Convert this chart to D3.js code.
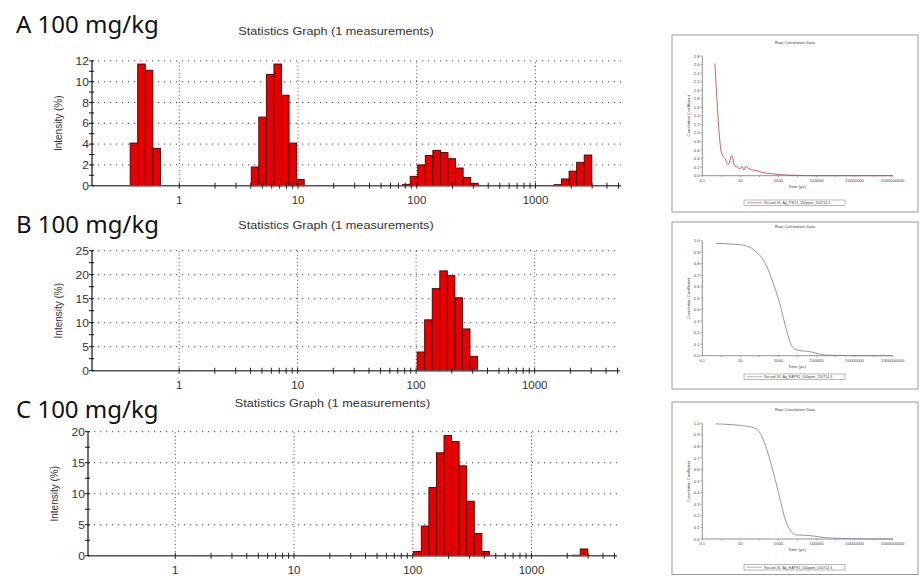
<!DOCTYPE html>
<html><head><meta charset="utf-8">
<script src="https://cdn.jsdelivr.net/npm/d3@7"></script>
<style>body{margin:0;background:#fff}svg{display:block}</style>
</head><body>
<svg id="c" width="921" height="582"></svg>
<script>
// Zetasizer size classes (d.nm)
const sizeClasses = [0.4,0.4632,0.5365,0.6213,0.7195,0.8332,0.9649,1.117,1.294,1.499,1.736,2.010,2.328,2.696,3.122,3.615,4.187,4.849,5.615,6.503,7.531,8.721,10.10,11.70,13.54,15.69,18.17,21.04,24.36,28.21,32.67,37.84,43.82,50.75,58.77,68.06,78.82,91.28,105.7,122.4,141.8,164.2,190.1,220.2,255.0,295.3,342.0,396.1,458.7,531.2,615.1,712.4,825.0,955.4,1106,1281,1484,1718,1990,2305,2669,3091,3580,4145,4801,5560,6439,7456,8635,10000];

const panelLabels = ["A 100 mg/kg","B 100 mg/kg","C 100 mg/kg"];
const chartTitle = "Statistics Graph (1 measurements)";
const xTickLabels = [1,10,100,1000];

const sizesA = [0.4,0.4632,0.5365,0.6213,4.187,4.849,5.615,6.503,7.531,8.721,10.10,78.82,91.28,105.7,122.4,141.8,164.2,190.1,220.2,255.0,295.3,1484,1718,1990,2305,2669];
const intensityA = [4.1,11.7,11.1,3.6,1.8,6.6,10.7,11.7,8.7,4.1,0.6,0.13,0.9,2.0,2.9,3.4,3.2,2.6,1.7,0.8,0.23,0.1,0.65,1.4,2.25,2.95];
const sizesB = [105.7,122.4,141.8,164.2,190.1,220.2,255.0,295.3];
const intensityB = [3.9,10.6,17.1,20.8,19.8,15.2,8.7,3.0];
const sizesC = [105.7,122.4,141.8,164.2,190.1,220.2,255.0,295.3,342.0,396.1,2305,2669];
const intensityC = [0.7,4.8,11.0,16.6,19.4,18.4,14.5,8.8,3.6,0.7,0.1,1.1];

// Raw correlation data (time in µs, coefficient)
const corrTimeA = [0.46,1.04,1.55,2.3,3.5,5.2,7.4,9.5,12,15.5,19.5,25,40,66,135,355,1175,7200,91000,1e9];
const corrValA  = [2.63,0.52,0.4,0.25,0.47,0.22,0.2,0.15,0.22,0.13,0.22,0.18,0.14,0.12,0.08,0.05,0.025,0.01,0.0,0.0];
const corrTimeB = [0.52,2.8,21,71,135,238,530,1190,2670,4880,8900,44500,333000,9e7,1e9];
const corrValB  = [0.977,0.972,0.955,0.9,0.85,0.78,0.63,0.45,0.22,0.09,0.05,0.035,0.005,0.0,0.0];
const corrTimeC = [0.5,21,71,238,530,1190,2170,3980,8900,44500,333000,9e7,1e9];
const corrValC  = [0.995,0.975,0.95,0.78,0.58,0.35,0.18,0.08,0.035,0.03,0.01,0.0,0.0];
const corrXTicks = [0.1,10,1000,100000,10000000,1000000000];
const legendTexts = ["Record 36: Ag_PSO1_100ppm_150714 3","Record 34: Ag_EAPS1_100ppm_150714 3","Record 35: Ag_EAPS1_100ppm_150714 3"];

const svg = d3.select("#c");
const FONT = "'Liberation Sans', Arial, sans-serif";
const SX = 1.15; // horizontal stretch of the original figure's text

const panels = [
  {sizes:sizesA, vals:intensityA, left:92, right:621, top:60.9, bottom:185.7, yMax:12, yMajor:2, yMinor:1, titleY:35, titleX:336, labelY:33},
  {sizes:sizesB, vals:intensityB, left:92, right:620, top:250.7, bottom:370.7, yMax:25, yMajor:5, yMinor:2.5, titleY:229, titleX:336, labelY:233},
  {sizes:sizesC, vals:intensityC, left:88, right:617, top:431.7, bottom:555.8, yMax:20, yMajor:5, yMinor:2.5, titleY:406.5, titleX:332.5, labelY:418}
];

function stretchedText(g, x, y, txt, size, anchor, rot){
  const gg = g.append("g").attr("transform",`translate(${x},${y}) scale(${SX},1)` + (rot?` rotate(${rot})`:""));
  return gg.append("text").attr("text-anchor",anchor).text(txt)
    .attr("font-family",FONT).attr("font-size",size).attr("fill","#333");
}

panels.forEach((p,pi)=>{
  const g = svg.append("g");
  const x = d3.scaleLog().domain([0.184,5250]).range([p.left,p.right]);
  const y = d3.scaleLinear().domain([0,p.yMax]).range([p.bottom,p.top]);

  g.append("text").attr("x",16).attr("y",p.labelY).text(panelLabels[pi])
    .attr("font-family","'Noto Sans', sans-serif").attr("font-size",24).attr("fill","#111");
  stretchedText(g, p.titleX, p.titleY, chartTitle, 11, "middle");

  // grid
  const majors = d3.range(p.yMajor, p.yMax+1e-9, p.yMajor);
  g.selectAll(".hg").data(majors).join("line")
    .attr("x1",p.left).attr("x2",p.right).attr("y1",d=>y(d)).attr("y2",d=>y(d))
    .attr("stroke","#444").attr("stroke-width",1).attr("stroke-dasharray","1.2,4.8");
  g.selectAll(".vg").data(xTickLabels).join("line")
    .attr("x1",d=>x(d)).attr("x2",d=>x(d)).attr("y1",p.bottom).attr("y2",p.top)
    .attr("stroke","#444").attr("stroke-width",1).attr("stroke-dasharray","1,2.6");

  // bars: each class bin spans between its bounds (bounds sit slightly below class values)
  const bars = p.sizes.map((s,i)=>{
    const k = sizeClasses.indexOf(s);
    const r = Math.pow(sizeClasses[k+1]/s, 0.25);
    return {lo:s/r, hi:sizeClasses[k+1]/r, v:p.vals[i]};
  });
  g.selectAll(".bar").data(bars).join("rect")
    .attr("x",d=>x(d.lo)).attr("width",d=>x(d.hi)-x(d.lo))
    .attr("y",d=>y(d.v)).attr("height",d=>y(0)-y(d.v))
    .attr("fill","#e80000").attr("stroke","#4a0000").attr("stroke-width",0.9);

  // x axis
  g.append("line").attr("x1",p.left).attr("x2",p.right).attr("y1",p.bottom).attr("y2",p.bottom)
    .attr("stroke","#555").attr("stroke-width",1.6);
  const xt = x.ticks().filter(d=>d>=1 && d<=5000);
  g.selectAll(".xt").data(xt).join("line")
    .attr("x1",d=>x(d)).attr("x2",d=>x(d)).attr("y1",p.bottom-3).attr("y2",p.bottom+3)
    .attr("stroke","#222").attr("stroke-width",1);
  xTickLabels.forEach(d=>stretchedText(g, x(d), p.bottom+18, d, 10, "middle"));

  // y axis
  g.append("line").attr("x1",p.left).attr("x2",p.left).attr("y1",p.bottom).attr("y2",p.top)
    .attr("stroke","#111").attr("stroke-width",1.2);
  const yt = d3.range(0, p.yMax+1e-9, p.yMinor);
  g.selectAll(".yt").data(yt).join("line")
    .attr("x1",p.left-3).attr("x2",p.left+2).attr("y1",d=>y(d)).attr("y2",d=>y(d))
    .attr("stroke","#111").attr("stroke-width",1);
  d3.range(0,p.yMax+1e-9,p.yMajor).forEach(d=>stretchedText(g, p.left-3, y(d)+4, d, 10.5, "end"));
  stretchedText(g, p.left-30, (p.top+p.bottom)/2, "Intensity (%)", 10, "middle", -90);
});

// Raw correlation panels
const corrPanels = [
  {t:corrTimeA, v:corrValA, yMax:2.8, yStep:0.2, box:[672,35,246,177], top:56, bottom:175.7, titleY:44, legY:200, color:"#b84040"},
  {t:corrTimeB, v:corrValB, yMax:1.0, yStep:0.1, box:[672,222,246,167], top:240.7, bottom:355.7, titleY:228, legY:374, color:"#84769a"},
  {t:corrTimeC, v:corrValC, yMax:1.0, yStep:0.1, box:[672,402,246,172.5], top:423.3, bottom:539, titleY:411, legY:564.5, color:"#84769a"}
];
corrPanels.forEach((c,ci)=>{
  const g = svg.append("g");
  const [bx,by,bw,bh] = c.box;
  g.append("rect").attr("x",bx).attr("y",by).attr("width",bw).attr("height",bh)
    .attr("fill","#fff").attr("stroke","#9a9a9a").attr("stroke-width",1);
  const x = d3.scaleLog().domain([0.1,1e9]).range([702.3,892.7]);
  const y = d3.scaleLinear().domain([0,c.yMax]).range([c.bottom,c.top]);
  const T = sel=>sel.attr("font-family",FONT).attr("font-size",4.2).attr("fill","#444");
  T(g.append("text").attr("x",(bx+bw/2)).attr("y",c.titleY).attr("text-anchor","middle").text("Raw Correlation Data"));
  g.append("line").attr("x1",702.3).attr("x2",892.7).attr("y1",c.bottom).attr("y2",c.bottom).attr("stroke","#666").attr("stroke-width",0.7);
  g.append("line").attr("x1",702.3).attr("x2",702.3).attr("y1",c.bottom).attr("y2",c.top).attr("stroke","#666").attr("stroke-width",0.7);
  const yt = d3.range(0,c.yMax+1e-9,c.yStep);
  g.selectAll(".cyt").data(yt).join("line").attr("x1",700.3).attr("x2",702.3).attr("y1",d=>y(d)).attr("y2",d=>y(d)).attr("stroke","#666").attr("stroke-width",0.5);
  T(g.selectAll(".cyl").data(yt).join("text").attr("x",699.5).attr("y",d=>y(d)+1.5).attr("text-anchor","end").text(d=>d.toFixed(1)));
  const dec = d3.range(-1,10).map(e=>Math.pow(10,e));
  g.selectAll(".cxt").data(dec).join("line").attr("x1",d=>x(d)).attr("x2",d=>x(d)).attr("y1",c.bottom).attr("y2",c.bottom+1.5).attr("stroke","#666").attr("stroke-width",0.5);
  T(g.selectAll(".cxl").data(corrXTicks).join("text").attr("x",d=>x(d)).attr("y",c.bottom+6).attr("text-anchor","middle").text(d=>d));
  T(g.append("text").attr("x",797).attr("y",c.bottom+12).attr("text-anchor","middle").text("Time (µs)"));
  T(g.append("text").attr("transform",`translate(690,${(c.top+c.bottom)/2}) rotate(-90)`).attr("text-anchor","middle").text("Correlation Coefficient"));
  const line = d3.line().x(d=>x(d[0])).y(d=>y(d[1])).curve(d3.curveMonotoneX);
  g.append("path").attr("d",line(c.t.map((t,i)=>[t,c.v[i]]))).attr("fill","none").attr("stroke",c.color).attr("stroke-width",0.8);
  g.append("rect").attr("x",744).attr("y",c.legY).attr("width",101).attr("height",5.5).attr("fill","#fff").attr("stroke","#777").attr("stroke-width",0.5);
  g.append("line").attr("x1",747).attr("x2",762).attr("y1",c.legY+2.75).attr("y2",c.legY+2.75).attr("stroke",c.color).attr("stroke-width",0.6);
  T(g.append("text").attr("x",764).attr("y",c.legY+4.2).text(legendTexts[ci])).attr("font-size",3.6);
});
</script>
</body></html>
